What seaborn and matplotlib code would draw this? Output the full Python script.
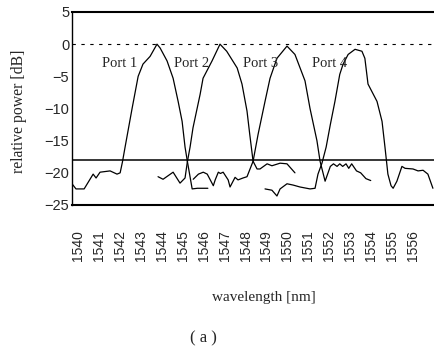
import numpy as np
import pandas as pd
import matplotlib
matplotlib.use("Agg")
import matplotlib.pyplot as plt
import seaborn as sns

# ---- data ----
port1_wl = [1539.71, 1539.90, 1540.29, 1540.72, 1540.86, 1541.05, 1541.53, 1541.86, 1542.01, 1542.12,
            1542.24, 1542.58, 1542.87, 1543.10, 1543.44, 1543.77, 1543.92, 1544.25, 1544.54, 1544.78,
            1544.97, 1545.11, 1545.22, 1545.45, 1545.70, 1546.00, 1546.20]
port1_db = [-21.7, -22.5, -22.5, -20.2, -20.8, -19.9, -19.7, -20.2, -20.0, -18.3,
            -16.1, -10.0, -5.0, -3.1, -1.9, 0.0, -0.6, -2.6, -5.3, -8.9,
            -12.0, -16.0, -18.2, -22.5, -22.4, -22.4, -22.4]

port2_wl = [1543.82, 1544.06, 1544.54, 1544.87, 1545.11, 1545.22, 1545.35, 1545.49, 1545.83, 1545.97,
            1546.40, 1546.78, 1547.10, 1547.60, 1547.83, 1548.07, 1548.20, 1548.36, 1548.55, 1548.69,
            1549.03, 1549.26, 1549.65, 1549.98, 1550.36]
port2_db = [-20.6, -21.0, -19.9, -21.6, -20.8, -18.3, -16.0, -13.0, -7.8, -5.3,
            -2.6, 0.0, -1.1, -3.7, -6.2, -10.4, -14.0, -18.2, -19.4, -19.4,
            -18.6, -18.9, -18.5, -18.6, -20.0]

port3_wl = [1545.50, 1545.75, 1545.98, 1546.17, 1546.46, 1546.55, 1546.70, 1546.80, 1546.93, 1547.17,
            1547.26, 1547.50, 1547.64, 1547.88, 1548.07, 1548.36, 1548.60, 1548.93, 1549.17, 1549.50,
            1549.98, 1550.36, 1550.84, 1551.08, 1551.41, 1551.56, 1551.80, 1552.05, 1552.20, 1552.37,
            1552.50, 1552.64, 1552.80, 1552.93, 1553.07, 1553.30, 1553.50, 1553.75, 1553.98]
port3_db = [-21.0, -20.2, -19.9, -20.2, -22.0, -21.1, -19.9, -20.1, -19.9, -21.1,
            -22.2, -20.7, -21.1, -20.8, -20.6, -18.2, -14.0, -8.9, -5.3, -2.2,
            -0.3, -1.6, -5.7, -10.0, -15.0, -18.2, -21.3, -19.0, -18.6, -19.0,
            -18.6, -19.0, -18.6, -19.3, -18.6, -19.7, -20.0, -20.9, -21.2]

port4_wl = [1548.93, 1549.26, 1549.50, 1549.65, 1549.98, 1550.27, 1550.60, 1551.08, 1551.32, 1551.46,
            1551.65, 1551.85, 1552.05, 1552.27, 1552.50, 1552.66, 1552.90, 1553.23, 1553.56, 1553.70,
            1553.85, 1554.28, 1554.52, 1554.66, 1554.80, 1554.95, 1555.05, 1555.23, 1555.47, 1555.62,
            1556.00, 1556.24, 1556.48, 1556.71, 1556.95]
port4_db = [-22.5, -22.7, -23.6, -22.5, -21.7, -21.9, -22.2, -22.5, -22.4, -20.2,
            -18.5, -16.0, -12.5, -8.9, -4.7, -3.1, -1.6, -0.8, -1.1, -2.2,
            -6.2, -8.9, -12.0, -16.0, -20.2, -22.0, -22.4, -21.3, -19.0, -19.3,
            -19.4, -19.7, -19.6, -20.2, -22.4]

port_names = ["Port 1", "Port 2", "Port 3", "Port 4"]
port_label_x = [1542.0, 1545.4, 1548.7, 1552.0]
port_label_y = [-3.0, -3.0, -3.0, -3.0]

xtick_values = list(range(1540, 1557))
ytick_values = [5, 0, -5, -10, -15, -20, -25]
ref_level = -18
top_level = 5
bottom_level = -25

# ---- build table ----
frames = []
for name, wl, db in zip(port_names, [port1_wl, port2_wl, port3_wl, port4_wl],
                        [port1_db, port2_db, port3_db, port4_db]):
    frames.append(pd.DataFrame({"wavelength": wl, "power": db, "port": name}))
df = pd.concat(frames, ignore_index=True)

sns.set_style("white")
plt.rcParams["font.family"] = ["Liberation Sans", "DejaVu Sans"]

fig = plt.figure(figsize=(4.35, 3.51), dpi=100)
ax = fig.add_axes([72 / 435, 1 - 205 / 351, 1 - 72 / 435, (205 - 12) / 351])

sns.lineplot(data=df, x="wavelength", y="power", hue="port", units="port",
             estimator=None, sort=False, palette=["black"] * 4, lw=0.9,
             legend=False, ax=ax)

ax.axhline(0, color="black", lw=0.8, ls=(0, (3, 5)))
ax.axhline(ref_level, color="black", lw=1.1)

ax.set_xlim(1539.71, 1557.05)
ax.set_ylim(bottom_level, top_level)

ax.set_xticks(xtick_values)
ax.set_xticklabels([str(v) for v in xtick_values], rotation=90, fontsize=10)
ax.set_yticks(ytick_values)
ax.set_yticklabels([f"{v}".replace("-", "\u2212") for v in ytick_values], fontsize=10.5)
ax.tick_params(axis="x", length=0, pad=18)
ax.tick_params(axis="y", length=0, pad=2)

ax.spines["right"].set_visible(False)
for side in ["top", "bottom"]:
    ax.spines[side].set_linewidth(1.5)
ax.spines["left"].set_linewidth(1.0)
for s in ax.spines.values():
    s.set_color("black")

ax.set_xlabel("wavelength [nm]", fontsize=11, family=["Liberation Serif"])
ax.xaxis.set_label_coords((264 - 72) / 363, (205 - 297) / 193)
ax.xaxis.label.set_va("center")
ax.set_ylabel("relative power [dB]", fontsize=11.3, family=["Liberation Serif"])
ax.yaxis.set_label_coords((19 - 72) / 363, (205 - 111) / 193)
ax.yaxis.label.set_va("center")

for name, lx, ly in zip(port_names, port_label_x, port_label_y):
    ax.text(lx, ly, name, fontsize=10.5, family=["Liberation Serif"], ha="center", va="center")

fig.text(203 / 435, 1 - 338 / 351, "( a )", fontsize=12, family=["Liberation Serif"],
         ha="center", va="center")

fig.savefig("out.png", dpi=100, facecolor="white")
